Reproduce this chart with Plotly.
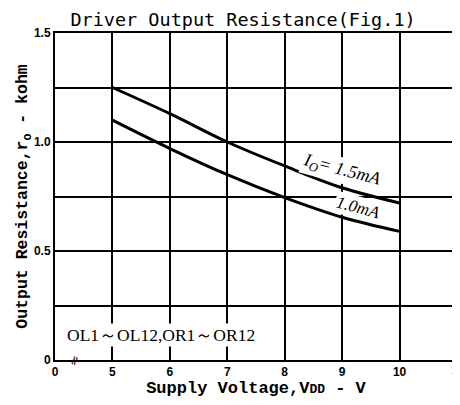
import plotly.graph_objects as go

# data (x axis is broken: position 4 is labelled "0")
voltage = [5, 6, 7, 8, 9, 10]
r_15mA = [1.25, 1.13, 1.0, 0.89, 0.79, 0.72]
r_10mA = [1.10, 0.97, 0.85, 0.745, 0.655, 0.59]
x_tickvals = [4, 5, 6, 7, 8, 9, 10]
x_ticktext = ["0", "5", "6", "7", "8", "9", "10"]
y_tickvals = [0, 0.5, 1.0, 1.5]
y_ticktext = ["0", "0.5", "1.0", "1.5"]

fig = go.Figure()
for ys in (r_15mA, r_10mA):
    fig.add_trace(go.Scatter(x=voltage, y=ys, mode="lines",
                             line=dict(color="black", width=3, shape="spline"),
                             showlegend=False, hoverinfo="skip"))

tickfont = dict(family="Liberation Sans", size=12, color="black", weight="bold")
fig.update_layout(
    width=452, height=397,
    margin=dict(l=47, r=3, t=25, b=45),
    paper_bgcolor="white", plot_bgcolor="white",
    title=dict(text="Driver Output Resistance(Fig.1)", x=0.52, xanchor="center",
               y=0.972, yanchor="middle",
               font=dict(family="DejaVu Sans Mono", size=18.5, color="black")),
    font=dict(color="black"),
)
fig.update_xaxes(range=[4, 11], tickvals=x_tickvals, ticktext=x_ticktext,
                 automargin=False,
                 showgrid=True, gridcolor="black", gridwidth=1.5,
                 showline=True, linecolor="black", linewidth=2, mirror=True,
                 ticks="", zeroline=False, tickfont=tickfont,
                 title=dict(text="Supply Voltage,V<span style='font-size:13px'>DD</span> - V", standoff=1,
                            font=dict(family="Liberation Mono", size=17, color="black", weight="bold")))
fig.update_yaxes(range=[0, 1.5], tickvals=y_tickvals, ticktext=y_ticktext,
                 automargin=False,
                 showgrid=True, gridcolor="black", gridwidth=1.5,
                 minor=dict(dtick=0.25, showgrid=True, gridcolor="black", gridwidth=1.5),
                 showline=True, linecolor="black", linewidth=2, mirror=True,
                 ticks="", zeroline=False, tickfont=tickfont,
                 title=dict(text="Output Resistance,r<sub>O</sub> - kohm", standoff=0,
                            font=dict(family="Liberation Mono", size=16.5, color="black", weight="bold")))

fig.add_annotation(x=11, y=0, text="11", showarrow=False, yanchor="top", yshift=-1,
                   font=tickfont)
fig.add_annotation(x=9.0, y=0.87, text="<i>I<sub>O</sub>= 1.5mA</i>", showarrow=False,
                   textangle=15, font=dict(family="Liberation Serif", size=18, color="black"),
                   bgcolor="white")
fig.add_annotation(x=9.28, y=0.70, text="<i>1.0mA</i>", showarrow=False,
                   textangle=15, font=dict(family="Liberation Serif", size=17, color="black"),
                   bgcolor="white")
fig.add_annotation(x=4.17, y=0.115, text="OL1～OL12,OR1～OR12", showarrow=False,
                   xanchor="left", font=dict(family="Liberation Serif", size=17.5, color="black"),
                   bgcolor="white")
fig.add_annotation(x=4.33, y=0.0, text="≈", showarrow=False, textangle=-70,
                   font=dict(family="DejaVu Sans", size=13, color="black"))

fig.write_html("out.html")
